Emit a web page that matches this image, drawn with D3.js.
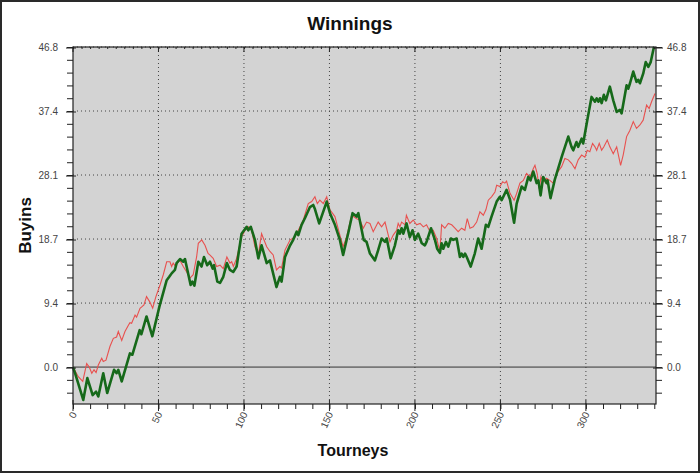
<!DOCTYPE html>
<html>
<head>
<meta charset="utf-8">
<script src="https://cdn.jsdelivr.net/npm/d3@7"></script>
<style>
  body { margin: 0; background: #fff; }
  svg { display: block; font-family: "Liberation Sans", Arial, sans-serif; }
</style>
</head>
<body>
<script>
const width = 700, height = 473;

// axis ticks
const yTickValues = [0, 9.36, 18.72, 28.08, 37.44, 46.8];
const yTickLabels = ["0.0", "9.4", "18.7", "28.1", "37.4", "46.8"];
const xTickValues = [0, 50, 100, 150, 200, 250, 300];

const winTourney = [0, 1.2, 6, 8.4, 11.5, 13.5, 14.8, 17.7, 20, 24, 25.5, 26.5, 28.5, 33.3, 34.7, 39, 40, 43, 46.4, 50.5,
  54.8, 56.3, 57.7, 59.6, 60.6, 62.6, 64.5, 65.5, 68.8, 69.8, 71, 73.3, 75.2, 76.6, 78.5, 80.1, 81.7, 82.5, 84.4, 86,
  87.9, 90, 91.8, 93.7, 95.7, 98.6, 101.6, 102.5, 104, 106.4, 108.4, 110.3, 113.3, 115.2, 119, 121, 122, 124, 127, 128.8,
  130.8, 131.8, 133.7, 135.7, 138.6, 140.5, 141.5, 144, 148.4, 150.3, 153.2, 156.1, 158, 161, 163.5, 165.9, 166.9, 170, 171.7, 173.7,
  176.6, 178.5, 180.5, 182.5, 183.5, 185.8, 188.3, 190.2, 191.2, 192.2, 193.2, 195.1, 197, 198.6, 200, 201.9, 204, 205.8, 206.8, 209.4,
  211.7, 213, 214.6, 215.6, 216.6, 218.1, 219.5, 221, 222.4, 224.4, 226.3, 227.3, 228.3, 229.3, 230.3, 232.6, 235, 237, 239, 241.5,
  242.9, 244.8, 247.8, 249.7, 250.7, 253.6, 255.6, 258, 259.5, 262.4, 264.3, 266.3, 267.6, 269.2, 271.2, 272.2, 273.5, 275, 277, 277.6,
  279.3, 281.8, 285.8, 289.7, 291.6, 292.6, 294.5, 295.5, 297.5, 298.4, 300.8, 303.3, 305.3, 306.3, 307.3, 308.2, 309.2, 310.5, 311.7, 314,
  316, 318, 319.9, 320.9, 323.8, 324.8, 325.8, 327.7, 329.6, 330.6, 331.6, 333.5, 335, 336.5, 337.9, 339.8];
const winBuyins = [0, -0.9, -4.8, -1.6, -4.1, -3.6, -4.3, -0.9, -3.8, -0.4, -0.9, -0.4, -2.1, 2.0, 1.8, 5.4, 4.8, 7.4, 4.5, 8.8,
  12.7, 13.2, 13.7, 14.2, 15.2, 15.8, 15.4, 15.8, 12.0, 12.5, 11.9, 15.4, 14.7, 16.1, 14.9, 15.4, 14.4, 14.9, 12.5, 12.3,
  13.2, 15.2, 14.2, 13.9, 14.7, 19.5, 20.5, 20.0, 20.5, 18.6, 15.9, 17.8, 15.2, 15.6, 11.7, 13.2, 12.5, 16.1, 17.8, 18.6,
  19.8, 19.3, 20.8, 21.8, 23.4, 23.7, 23.1, 21.0, 24.2, 22.5, 20.8, 18.6, 16.4, 19.6, 22.5, 22.0, 22.5, 18.6, 18.3, 16.6,
  15.6, 17.1, 18.8, 18.3, 18.8, 15.9, 17.8, 20.0, 19.5, 20.3, 19.5, 21.0, 19.0, 20.0, 18.6, 19.5, 18.1, 17.8, 18.3, 20.3,
  18.6, 17.3, 16.7, 18.1, 17.3, 18.3, 17.6, 18.8, 18.6, 18.8, 16.1, 16.6, 16.1, 16.6, 16.1, 14.7, 16.6, 18.8, 17.3, 20.8,
  20.5, 22.0, 24.2, 24.9, 24.4, 25.9, 24.5, 21.1, 23.9, 26.4, 25.9, 27.8, 27.3, 28.6, 26.9, 27.3, 25.1, 27.8, 26.9, 27.3,
  24.7, 27.4, 30.7, 33.7, 32.2, 31.7, 32.9, 32.2, 33.4, 32.7, 36.1, 39.5, 38.8, 39.3, 38.8, 39.3, 38.6, 39.8, 39.0, 41.0,
  39.0, 37.3, 37.6, 37.1, 41.2, 40.7, 41.5, 43.2, 41.7, 42.0, 41.5, 42.9, 44.6, 43.9, 44.6, 46.8];

// second series (red)
const expTourney = [0, 3.1, 5.7, 8, 9.5, 11, 12.3, 13.5, 14.8, 16.8, 17.7, 19.3, 21.6, 23.6, 25.5, 26.5, 28.5, 30.4, 32.4, 33.3,
  34.3, 36.3, 37.2, 39.2, 40.2, 41.5, 43, 45, 46.6, 48.5, 50.9, 52.8, 54.8, 56.7, 57.7, 58.6, 60.1, 60.9, 62.6, 64.5,
  66.5, 68.4, 70.3, 72.3, 73.3, 75.3, 77.2, 79, 80, 82, 84, 86, 87.9, 90, 91.8, 92.8, 93.8, 95.7, 98.6, 100.6,
  102.5, 104.5, 106.4, 108.4, 110.3, 113.3, 115.2, 117.1, 119, 121, 122, 124, 127, 129.8, 131.8, 134.7, 137.6, 139.6, 141.5, 142.9,
  144.4, 146.4, 148.4, 150.3, 153.2, 156.1, 158, 160, 163, 165.9, 167.8, 169.8, 171.7, 173.7, 175.6, 178.5, 180.5, 182.5, 185.4, 187.3,
  189.3, 190.2, 191.2, 192.2, 194.2, 195, 197, 199, 201, 203, 204.9, 206.8, 208.8, 210.7, 212.7, 214.6, 215.6, 217.5, 219.5, 221.5,
  223.4, 225.3, 227.3, 229.2, 230.6, 232.2, 234.1, 236.1, 238, 240, 241.5, 242.9, 244.8, 246.8, 247.8, 249.7, 251.3, 252.6, 253.6, 255.6,
  258, 259.5, 261.4, 263.4, 265.3, 267.3, 269.2, 270.2, 271.5, 272.7, 273.7, 275, 277, 278.9, 280.9, 282.9, 285.8, 287.7, 289.7, 291.6,
  293.6, 295.5, 297.5, 299.4, 300.8, 302.3, 303.9, 305.3, 306.3, 307.8, 309.2, 310.5, 312.5, 314, 316, 318, 320.3, 321.8, 323.8, 325.7,
  327.7, 329.6, 331.6, 333.5, 335.5, 337, 338.4, 340.4];
const expBuyins = [0, -1.4, -2.1, 0.5, 0, -0.9, -0.4, -0.8, 0.3, 1.3, 0.8, 1.0, 3.0, 4.2, 4.4, 5.2, 3.9, 5.2, 6.1, 6.5,
  6.4, 7.6, 7.3, 8.6, 8.8, 9.1, 10.3, 9.5, 8.6, 10.3, 12.0, 13.5, 15.4, 15.4, 14.7, 15.2, 14.7, 15.2, 15.6, 14.7,
  13.9, 13.0, 13.5, 16.1, 18.1, 18.6, 17.8, 16.6, 16.4, 15.9, 14.7, 14.9, 14.4, 16.1, 15.2, 15.4, 14.7, 15.9, 19.0, 20.0,
  20.5, 20.0, 17.6, 16.4, 19.5, 17.6, 16.9, 16.4, 14.2, 14.7, 14.5, 17.1, 18.6, 19.0, 20.0, 21.5, 23.9, 24.2, 24.9, 23.9,
  24.4, 23.9, 24.9, 23.0, 22.0, 19.3, 17.6, 19.0, 22.2, 21.7, 21.5, 20.3, 21.2, 21.0, 19.8, 21.2, 20.5, 21.2, 18.3, 19.3,
  20.0, 21.0, 20.5, 21.2, 20.8, 22.2, 21.0, 21.5, 20.8, 21.0, 20.5, 20.8, 19.8, 20.0, 18.8, 16.9, 20.8, 20.3, 21.0, 20.8,
  20.3, 19.8, 20.3, 20.0, 21.7, 20.3, 20.5, 21.2, 22.7, 22.2, 23.0, 24.4, 24.9, 25.6, 26.6, 26.4, 27.1, 26.9, 27.2, 25.4,
  24.4, 25.4, 26.9, 27.3, 28.3, 27.8, 29.0, 29.5, 28.3, 26.1, 27.8, 27.1, 27.6, 27.3, 26.9, 28.3, 29.3, 30.5, 30.3, 29.8,
  29.0, 30.3, 31.0, 30.7, 31.7, 31.5, 32.7, 32.2, 31.7, 32.7, 31.7, 32.2, 33.2, 32.2, 31.2, 32.2, 29.5, 31.0, 33.7, 34.6,
  35.9, 34.9, 35.4, 36.1, 38.3, 37.8, 38.8, 40.0];

const plot = { left: 73, right: 656, top: 47, bottom: 404 };

const x = d3.scaleLinear().domain([0, 341]).range([plot.left, plot.right]);
const y = d3.scaleLinear().domain([-5.4, 46.8]).range([plot.bottom, plot.top]);

const svg = d3.select("body").append("svg")
    .attr("width", width)
    .attr("height", height);

// frame round the whole picture
svg.append("rect")
    .attr("x", 1).attr("y", 1)
    .attr("width", width - 2).attr("height", height - 2)
    .attr("fill", "#fff").attr("stroke", "#2a2a2a").attr("stroke-width", 2);

svg.append("rect")
    .attr("x", plot.left).attr("y", plot.top)
    .attr("width", plot.right - plot.left).attr("height", plot.bottom - plot.top)
    .attr("fill", "#d3d3d3");

// dotted grid
const grid = svg.append("g").attr("stroke", "#444").attr("stroke-dasharray", "1,3");
grid.selectAll(".gx").data(xTickValues.slice(1)).enter().append("line")
    .attr("x1", d => x(d)).attr("x2", d => x(d))
    .attr("y1", plot.top).attr("y2", plot.bottom);
grid.selectAll(".gy").data(yTickValues.slice(1)).enter().append("line")
    .attr("x1", plot.left).attr("x2", plot.right)
    .attr("y1", d => y(d)).attr("y2", d => y(d));

// zero line
svg.append("line")
    .attr("x1", plot.left).attr("x2", plot.right)
    .attr("y1", y(0)).attr("y2", y(0))
    .attr("stroke", "#333").attr("stroke-width", 1);

const line = d3.line().x(d => x(d[0])).y(d => y(d[1]));
const expData = expTourney.map((t, i) => [t, expBuyins[i]]);
const winData = winTourney.map((t, i) => [t, winBuyins[i]]);

svg.append("path").datum(expData)
    .attr("d", line)
    .attr("fill", "none").attr("stroke", "#e8514f").attr("stroke-width", 1.1);

svg.append("path").datum(winData)
    .attr("d", line)
    .attr("fill", "none").attr("stroke", "#16691a").attr("stroke-width", 2.6)
    .attr("stroke-linejoin", "round");

// axes
const minorY = d3.range(-2, 26).map(i => i * 1.872);
const minorX = d3.range(0, 35).map(i => i * 10);

const leftAxis = d3.axisLeft(y).tickValues(minorY).tickSize(6).tickFormat("");
const rightAxis = d3.axisRight(y).tickValues(minorY).tickSize(6).tickFormat("");
const bottomAxis = d3.axisBottom(x).tickValues(minorX).tickSize(5).tickFormat("");
const topAxis = d3.axisBottom(x).tickValues(d3.range(0, 342, 5)).tickSize(2).tickFormat("");

function styleAxis(g) {
  g.selectAll("path").remove();
  g.selectAll("line").attr("stroke", "#222");
}

svg.append("g").attr("transform", `translate(${plot.left},0)`).call(leftAxis).call(styleAxis);
svg.append("g").attr("transform", `translate(${plot.right},0)`).call(rightAxis).call(styleAxis);
svg.append("g").attr("transform", `translate(0,${plot.bottom})`).call(bottomAxis).call(styleAxis);
svg.append("g").attr("transform", `translate(0,${plot.top})`).call(topAxis).call(styleAxis);

// major ticks crossing the axes
const majors = svg.append("g").attr("stroke", "#222");
majors.selectAll(".myl").data(yTickValues).enter().append("line")
    .attr("x1", plot.left - 7).attr("x2", plot.left + 3)
    .attr("y1", d => y(d) + 1).attr("y2", d => y(d) + 1);
majors.selectAll(".myr").data(yTickValues).enter().append("line")
    .attr("x1", plot.right - 3).attr("x2", plot.right + 7)
    .attr("y1", d => y(d) + 1).attr("y2", d => y(d) + 1);
majors.selectAll(".mx").data(xTickValues).enter().append("line")
    .attr("x1", d => x(d)).attr("x2", d => x(d))
    .attr("y1", plot.bottom - 4).attr("y2", plot.bottom + 7);
majors.selectAll(".mt").data(xTickValues).enter().append("line")
    .attr("x1", d => x(d)).attr("x2", d => x(d))
    .attr("y1", plot.top).attr("y2", plot.top + 5);

// frame of the plot
svg.append("rect")
    .attr("x", plot.left).attr("y", plot.top)
    .attr("width", plot.right - plot.left).attr("height", plot.bottom - plot.top)
    .attr("fill", "none").attr("stroke", "#222").attr("stroke-width", 1.2);

// tick labels
const labels = svg.append("g").attr("fill", "#444").attr("font-size", 10);
labels.selectAll(".yl").data(yTickValues).enter().append("text")
    .attr("x", plot.left - 15).attr("y", d => y(d) + 4)
    .attr("text-anchor", "end")
    .text((d, i) => yTickLabels[i]);
labels.selectAll(".yr").data(yTickValues).enter().append("text")
    .attr("x", plot.right + 11).attr("y", d => y(d) + 4)
    .attr("text-anchor", "start")
    .text((d, i) => yTickLabels[i]);
labels.selectAll(".xl").data(xTickValues).enter().append("text")
    .attr("transform", d => `translate(${x(d) + 4},${plot.bottom + 10}) rotate(-65)`)
    .attr("text-anchor", "end")
    .text(d => d);

// titles
svg.append("text")
    .attr("x", 350).attr("y", 30)
    .attr("text-anchor", "middle")
    .attr("font-size", 19).attr("font-weight", "bold").attr("fill", "#111")
    .text("Winnings");

svg.append("text")
    .attr("x", 353).attr("y", 456)
    .attr("text-anchor", "middle")
    .attr("font-size", 16).attr("font-weight", "bold").attr("fill", "#111")
    .text("Tourneys");

svg.append("text")
    .attr("transform", `translate(31,${(plot.top + plot.bottom) / 2}) rotate(-90)`)
    .attr("text-anchor", "middle")
    .attr("font-size", 17).attr("font-weight", "bold").attr("fill", "#111")
    .text("Buyins");
</script>
</body>
</html>
